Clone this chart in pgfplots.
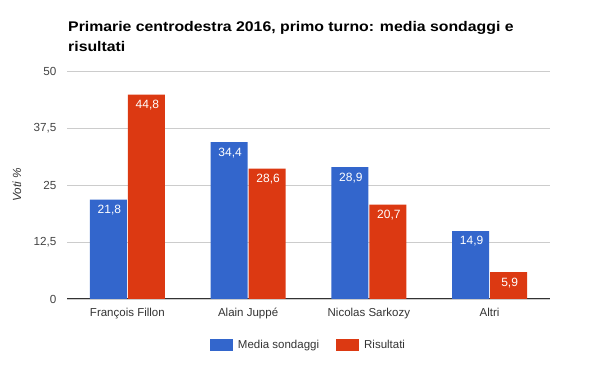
\documentclass[border=0pt]{standalone}
\usepackage{fontspec}
\setmainfont{Liberation Sans}
\newfontfamily\titlefont[FakeStretch=1.13]{Liberation Sans Bold}
\usepackage{pgfplots}
\pgfplotsset{compat=1.18}
\definecolor{gblue}{HTML}{3366CC}
\definecolor{gred}{HTML}{DC3912}
\definecolor{gridc}{HTML}{CCCCCC}
\definecolor{tickc}{HTML}{444444}
\definecolor{xlab}{HTML}{333333}
\begin{document}
\begin{tikzpicture}
\path[use as bounding box] (0,0) rectangle (600pt,371pt);
\node[anchor=base west, inner sep=0pt, font=\titlefont\fontsize{14}{16}\selectfont] at (68pt,339.5pt) {Primarie centrodestra 2016, primo turno: media sondaggi e};
\node[anchor=base west, inner sep=0pt, font=\titlefont\fontsize{14}{16}\selectfont] at (68pt,319.5pt) {risultati};
\node[rotate=90, font=\itshape\fontsize{11.8}{13}\selectfont, text=xlab] at (17pt,186pt) {Voti \%};
\begin{axis}[
  at={(67pt,72pt)}, anchor=south west,
  scale only axis, width=483pt, height=228pt,
  ybar=1pt, bar width=37pt,
  xmin=-0.5, xmax=3.5, ymin=0, ymax=50,
  xtick={0,1,2,3},
  xticklabels={François Fillon, Alain Juppé, Nicolas Sarkozy, Altri},
  ytick={0,12.5,25,37.5,50},
  major tick length=0pt,
  axis line style={draw=none},
  ymajorgrids, grid style={gridc, line width=0.8pt},
  extra y ticks={0}, extra y tick labels={},
  extra y tick style={grid style={xlab, line width=1pt}},
  /pgf/number format/assume math mode=true,
  yticklabel style={font=\fontsize{11.7}{13}\selectfont, text=tickc, xshift=-7pt,
    /pgf/number format/.cd, use comma, fixed},
  xticklabel style={font=\fontsize{11.5}{13}\selectfont, text=xlab, yshift=-6pt},
  nodes near coords={\pgfmathprintnumber[fixed, fixed zerofill, precision=1, use comma, assume math mode=true]{\pgfplotspointmeta}},
  every node near coord/.append style={anchor=north, text=white, yshift=-2pt, xshift=1pt, font=\fontsize{12}{14}\selectfont},
  legend columns=2,
  legend style={at={(0.5,-0.2018)}, anchor=center, draw=none, fill=none,
    font=\fontsize{11.5}{13}\selectfont, text=xlab,
    /tikz/every even column/.append style={column sep=15pt}},
  legend image code/.code={\fill[#1] (0pt,-6pt) rectangle (23pt,6pt); \path (26pt,0pt);},
]
\addplot[fill=gblue, draw=none] coordinates {(0,21.8) (1,34.4) (2,28.9) (3,14.9)};
\addplot[fill=gred, draw=none] coordinates {(0,44.8) (1,28.6) (2,20.7) (3,5.9)};
\legend{Media sondaggi, Risultati}
\end{axis}
\end{tikzpicture}
\end{document}
